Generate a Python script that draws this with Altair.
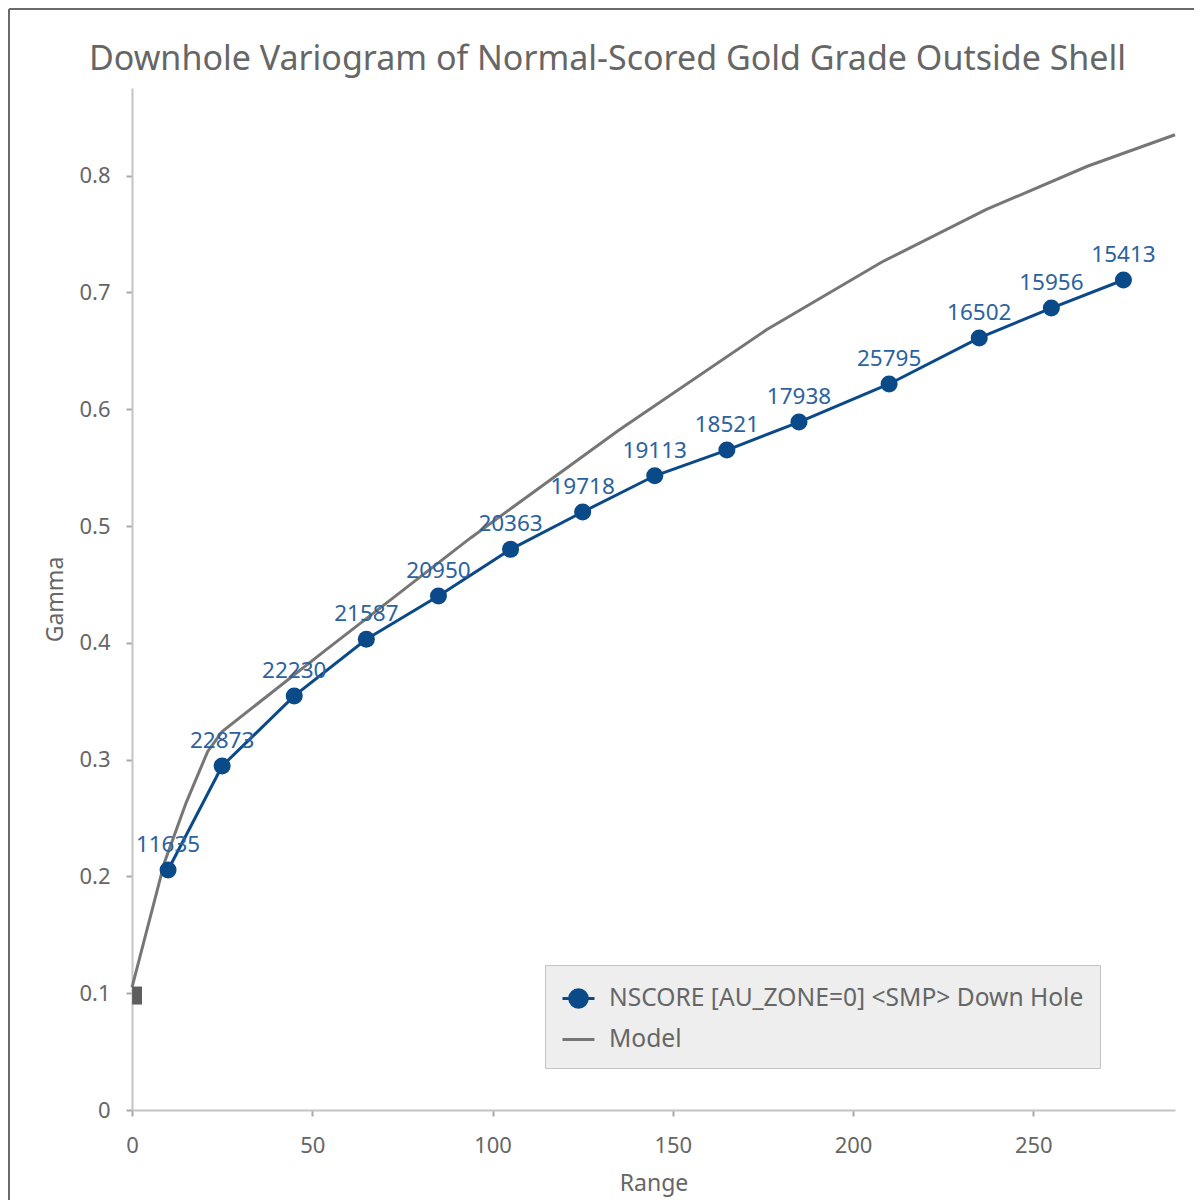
import altair as alt
import pandas as pd

# ---- data ----
lag = [10, 25, 45, 65, 85, 105, 125, 145, 165, 185, 210, 235, 255, 275]
gamma = [0.2055, 0.2945, 0.3545, 0.403, 0.440, 0.480, 0.512, 0.543, 0.565,
         0.589, 0.6216, 0.661, 0.6866, 0.7106]
pairs = ["11635", "22873", "22230", "21587", "20950", "20363", "19718",
         "19113", "18521", "17938", "25795", "16502", "15956", "15413"]

model_x = [0, 9, 15, 21, 25, 53, 94, 135, 176, 208, 237, 265, 289.3]
model_y = [0.105, 0.212, 0.263, 0.307, 0.324, 0.392, 0.49, 0.582, 0.668,
           0.726, 0.771, 0.808, 0.835]

nugget_x = [1.4]
nugget_y = [0.098]

series = ["NSCORE [AU_ZONE=0] <SMP> Down Hole", "Model"]
x_ticks = [0, 50, 100, 150, 200, 250]
y_ticks = [0, 0.1, 0.2, 0.3, 0.4, 0.5, 0.6, 0.7, 0.8]

BLUE = "#0b4a88"
LABEL_BLUE = "#2b62a0"
GRAY = "#767676"
TXT = "#666666"
FONT = "Noto Sans"

pts = pd.DataFrame({"lag": lag, "gamma": gamma, "pairs": pairs})
mdl = pd.DataFrame({"lag": model_x, "gamma": model_y})
nug = pd.DataFrame({"lag": nugget_x, "gamma": nugget_y})
leg = pd.DataFrame({"series": series, "lag": [0, 0], "gamma": [0, 0]})

xs = alt.Scale(domain=[0, 289.3], nice=False, zero=False)
ys = alt.Scale(domain=[0, 0.875], nice=False)

X = alt.X("lag:Q", scale=xs, axis=alt.Axis(
    values=x_ticks, title="Range", grid=False, tickSize=6, labelPadding=19,
    titlePadding=16, format="d", labelFlush=False))
Y = alt.Y("gamma:Q", scale=ys, axis=alt.Axis(
    values=y_ticks, title="Gamma", grid=False, tickSize=6, labelPadding=16,
    titlePadding=11, labelExpr="datum.value == 0 ? '0' : format(datum.value, '.1f')"))

model_line = alt.Chart(mdl).mark_line(color=GRAY, strokeWidth=3).encode(x=X, y=Y)
data_line = alt.Chart(pts).mark_line(color=BLUE, strokeWidth=3).encode(x=X, y=Y)
data_pts = alt.Chart(pts).mark_circle(color=BLUE, opacity=1, size=290).encode(x=X, y=Y)
data_lbl = alt.Chart(pts).mark_text(
    color=LABEL_BLUE, font=FONT, fontSize=22.5, dy=-25, align="center", baseline="middle"
).encode(x=X, y=Y, text="pairs:N")
nug_mark = alt.Chart(nug).mark_point(
    shape="M-0.55,-1H0.55V1H-0.55Z", filled=True, color="#5e5e5e", opacity=1, size=324
).encode(x=X, y=Y)

circle_line = "M-1,0H1M0.55,0A0.55,0.55,0,1,1,-0.55,0A0.55,0.55,0,1,1,0.55,0Z"
legend_layer = alt.Chart(leg).transform_filter("false").mark_point(
    filled=True, opacity=1, strokeWidth=3
).encode(
    x=X, y=Y,
    fill=alt.Fill("series:N", scale=alt.Scale(domain=series, range=[BLUE, GRAY]),
                  legend=alt.Legend(title=None)),
    stroke=alt.Stroke("series:N", scale=alt.Scale(domain=series, range=[BLUE, GRAY]),
                      legend=alt.Legend(title=None)),
    shape=alt.Shape("series:N", scale=alt.Scale(domain=series, range=[circle_line, "stroke"]),
                    legend=alt.Legend(title=None)),
)

one = pd.DataFrame({"k": [0]})
border_left = alt.Chart(one).mark_rule(color="#6a6a6a", strokeWidth=2, clip=False).encode(
    x=alt.value(-123), y=alt.value(-79), y2=alt.value(1112))
border_top = alt.Chart(one).mark_rule(color="#6a6a6a", strokeWidth=2, clip=False).encode(
    x=alt.value(-123), x2=alt.value(1062), y=alt.value(-79))

chart = alt.layer(
    model_line, data_line, data_pts, data_lbl, nug_mark, legend_layer, border_left, border_top
).properties(
    width=1043, height=1022,
    padding={"left": 124, "top": 80, "right": 20, "bottom": 92},
    autosize=alt.AutoSizeParams(type="none"),
    title=alt.Title(
        "Downhole Variogram of Normal-Scored Gold Grade Outside Shell",
        font=FONT, fontSize=34, fontWeight="normal", color=TXT,
        anchor="middle", dx=-46, dy=79, offset=10),
).configure_view(stroke=None).configure_axis(
    labelFont=FONT, labelFontSize=22, labelColor=TXT,
    titleFont=FONT, titleFontSize=23, titleColor=TXT, titleFontWeight="normal",
    domainColor="#c4c4c4", domainWidth=2, tickColor="#a8a8a8", tickWidth=2,
).configure_legend(
    orient="none", legendX=413, legendY=877,
    fillColor="#eeeeee", strokeColor="#c4c4c4", padding=16,
    labelFont=FONT, labelFontSize=24.6, labelColor=TXT, labelLimit=0,
    symbolSize=1024, symbolStrokeWidth=3, rowPadding=8, labelOffset=13,
    cornerRadius=0,
)

chart.save("out.html", embed_options={"renderer": "svg", "actions": False})
